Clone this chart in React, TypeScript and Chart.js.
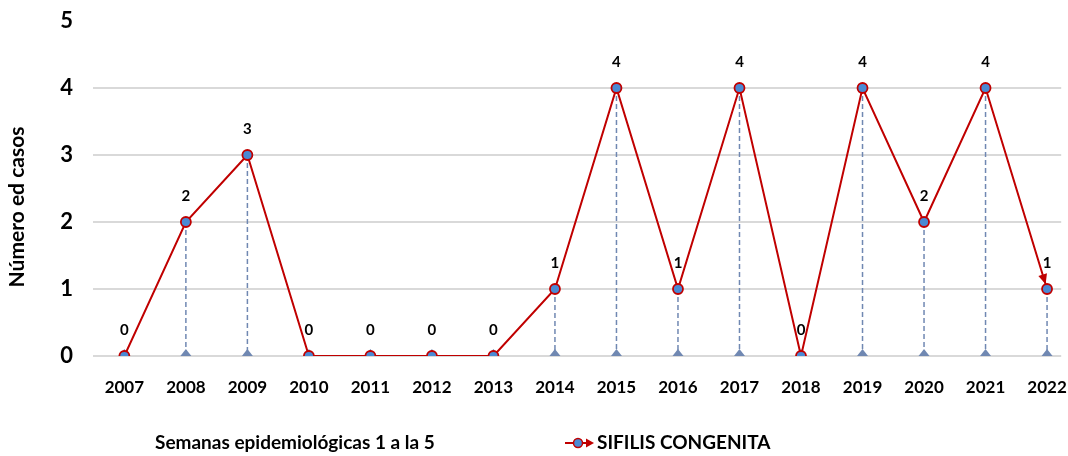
import React, { useEffect, useRef } from "react";
import { Chart, registerables } from "chart.js";

Chart.register(...registerables);

const categories = ["2007", "2008", "2009", "2010", "2011", "2012", "2013", "2014", "2015", "2016", "2017", "2018", "2019", "2020", "2021", "2022"];
const casos = [0, 2, 3, 0, 0, 0, 0, 1, 4, 1, 4, 0, 4, 2, 4, 1];
const yTicks = [0, 1, 2, 3, 4, 5];
const yTitle = "Número ed casos";
const xTitle = "Semanas epidemiológicas 1 a la 5";
const seriesName = "SIFILIS CONGENITA";

const FONT = "Lato, 'DejaVu Sans', sans-serif";
const RED = "#C00000";
const BLUE = "#4A8AD4";
const DROP = "#7088B2";

const extras = {
  id: "extras",
  beforeDatasetsDraw(chart: any) {
    const { ctx } = chart;
    const xs = chart.scales.x;
    const ys = chart.scales.y;
    const y0 = ys.getPixelForValue(0);
    ctx.save();
    casos.forEach((v, i) => {
      const x = xs.getPixelForValue(i);
      const y = ys.getPixelForValue(v);
      if (v > 0) {
        ctx.beginPath();
        ctx.setLineDash([5, 3]);
        ctx.strokeStyle = DROP;
        ctx.lineWidth = 1.5;
        ctx.moveTo(x, y);
        ctx.lineTo(x, y0);
        ctx.stroke();
      }
      ctx.setLineDash([]);
      ctx.beginPath();
      ctx.fillStyle = DROP;
      ctx.moveTo(x - 5.5, y0);
      ctx.lineTo(x + 5.5, y0);
      ctx.lineTo(x, y0 - 7);
      ctx.closePath();
      ctx.fill();
    });
    ctx.restore();
  },
  afterDatasetsDraw(chart: any) {
    const { ctx } = chart;
    const xs = chart.scales.x;
    const ys = chart.scales.y;
    ctx.save();
    // arrowhead on the final segment
    const n = casos.length;
    const xa = xs.getPixelForValue(n - 2), ya = ys.getPixelForValue(casos[n - 2]);
    const xb = xs.getPixelForValue(n - 1), yb = ys.getPixelForValue(casos[n - 1]);
    const ang = Math.atan2(yb - ya, xb - xa);
    const tipX = xb - Math.cos(ang) * 5;
    const tipY = yb - Math.sin(ang) * 5;
    ctx.fillStyle = RED;
    ctx.beginPath();
    ctx.moveTo(tipX, tipY);
    ctx.lineTo(tipX - Math.cos(ang) * 10 + Math.sin(ang) * 4.5, tipY - Math.sin(ang) * 10 - Math.cos(ang) * 4.5);
    ctx.lineTo(tipX - Math.cos(ang) * 10 - Math.sin(ang) * 4.5, tipY - Math.sin(ang) * 10 + Math.cos(ang) * 4.5);
    ctx.closePath();
    ctx.fill();

    // data labels
    ctx.fillStyle = "#000";
    ctx.font = `bold 15px ${FONT}`;
    ctx.textAlign = "center";
    ctx.textBaseline = "middle";
    casos.forEach((v, i) => {
      ctx.fillText(String(v), xs.getPixelForValue(i), ys.getPixelForValue(v) - 26);
    });

    // y title
    ctx.save();
    ctx.translate(17, 207);
    ctx.rotate(-Math.PI / 2);
    ctx.font = `bold 21px ${FONT}`;
    ctx.fillText(yTitle, 0, 0);
    ctx.restore();

    // bottom caption
    ctx.textAlign = "left";
    ctx.font = `bold 19px ${FONT}`;
    ctx.fillText(xTitle, 155, 443);

    // legend
    const lx = 565, ly = 443;
    ctx.strokeStyle = RED;
    ctx.lineWidth = 2;
    ctx.beginPath();
    ctx.moveTo(lx, ly);
    ctx.lineTo(lx + 22, ly);
    ctx.stroke();
    ctx.fillStyle = RED;
    ctx.beginPath();
    ctx.moveTo(lx + 29, ly);
    ctx.lineTo(lx + 21, ly - 4.5);
    ctx.lineTo(lx + 21, ly + 4.5);
    ctx.closePath();
    ctx.fill();
    ctx.beginPath();
    ctx.arc(lx + 13, ly, 4.5, 0, Math.PI * 2);
    ctx.fillStyle = BLUE;
    ctx.fill();
    ctx.strokeStyle = RED;
    ctx.lineWidth = 1.5;
    ctx.stroke();
    ctx.fillStyle = "#000";
    ctx.font = `bold 19px ${FONT}`;
    ctx.fillText(seriesName, lx + 32, ly);
    ctx.restore();
  },
};

export default function App() {
  const ref = useRef<HTMLCanvasElement>(null);
  useEffect(() => {
    if (!ref.current) return;
    const chart = new Chart(ref.current, {
      type: "line",
      data: {
        datasets: [
          {
            label: seriesName,
            data: casos.map((v, i) => ({ x: i, y: v })),
            borderColor: RED,
            borderWidth: 2,
            pointRadius: 5,
            pointBackgroundColor: BLUE,
            pointBorderColor: RED,
            pointBorderWidth: 1.8,
            tension: 0,
          },
        ],
      },
      options: {
        animation: false,
        responsive: false,
        events: [],
        layout: { padding: { top: 21, right: 0, bottom: 0, left: 0 } },
        plugins: { legend: { display: false }, tooltip: { enabled: false } },
        scales: {
          x: {
            type: "linear",
            min: -0.51,
            max: 15.23,
            afterBuildTicks: (s: any) => {
              s.ticks = categories.map((_, i) => ({ value: i }));
            },
            afterFit: (s: any) => {
              s.height = 100;
              s.paddingLeft = 0;
              s.paddingRight = 0;
            },
            ticks: {
              autoSkip: false,
              maxRotation: 0,
              padding: 21,
              color: "#000",
              font: { family: FONT, size: 17, weight: "bold" },
              callback: (v: any) => categories[v] ?? "",
            },
            grid: { display: false, drawTicks: false },
            border: { display: false },
          },
          y: {
            min: 0,
            max: 5,
            afterBuildTicks: (s: any) => {
              s.ticks = yTicks.map((v) => ({ value: v }));
            },
            afterFit: (s: any) => {
              s.width = 93;
              s.paddingTop = 0;
              s.paddingBottom = 0;
            },
            ticks: {
              padding: 20,
              color: "#000",
              font: { family: FONT, size: 22, weight: "bold" },
            },
            grid: {
              drawTicks: false,
              lineWidth: 2,
              color: (c: any) => (c.tick && c.tick.value === 5 ? "rgba(0,0,0,0)" : "#D9D9D9"),
            },
            border: { display: false },
          },
        },
      },
      plugins: [extras],
    });
    return () => chart.destroy();
  }, []);
  return (
    <div style={{ position: "absolute", left: 0, top: 0, width: 1068, height: 456, background: "#fff" }}>
      <canvas ref={ref} width={1068} height={456} />
    </div>
  );
}
